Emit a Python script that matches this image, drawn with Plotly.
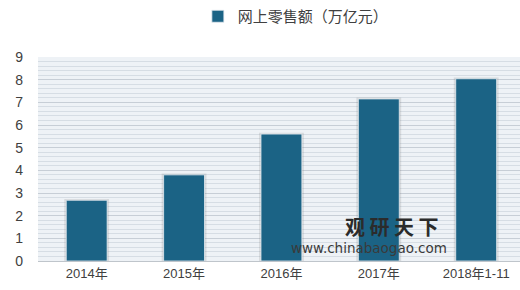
import plotly.graph_objects as go

categories = ["2014年", "2015年", "2016年", "2017年", "2018年1-11"]
values = [2.68, 3.80, 5.60, 7.15, 8.04]
series_name = "网上零售额（万亿元）"
y_ticks = [0, 1, 2, 3, 4, 5, 6, 7, 8, 9]

FONT = "Liberation Sans, Noto Sans CJK SC, sans-serif"

fig = go.Figure()
# soft shadow behind bars
fig.add_trace(go.Bar(
    x=categories, y=[v + 0.06 for v in values], width=0.46,
    marker=dict(color="rgba(110,110,110,0.18)", line=dict(width=0)),
    showlegend=False, hoverinfo="skip",
))
fig.add_trace(go.Bar(
    x=categories, y=values, width=0.42, name=series_name,
    marker=dict(color="#1b6385", line=dict(color="#e4ebf0", width=0.8)),
))

fig.update_layout(
    width=520, height=290,
    margin=dict(l=38, r=0, t=40, b=29),
    paper_bgcolor="white",
    plot_bgcolor="#eef2f6",
    barmode="overlay",
    font=dict(family=FONT, size=13, color="#404040"),
    showlegend=True,
    legend=dict(
        orientation="h", x=0.535, xanchor="center", y=1.2, yanchor="middle",
        bgcolor="white", font=dict(size=15, color="#404040"),
        itemwidth=30,
    ),
    xaxis=dict(
        range=[-0.5, 4.45], showgrid=False, showline=True,
        linecolor="#bfc5cb", linewidth=1, ticks="",
        tickfont=dict(size=13, color="#404040"),
    ),
    yaxis=dict(
        range=[0, 9], tickvals=y_ticks, showgrid=True,
        gridcolor="#c7ced6", gridwidth=1, zeroline=False,
        ticks="", ticklen=0, ticklabelstandoff=14,
        tickfont=dict(size=14, color="#404040"),
        minor=dict(dtick=0.2, showgrid=True, gridcolor="#d6dde4", gridwidth=1),
    ),
    annotations=[
        dict(text="<b>观 研 天 下</b>", xref="paper", yref="paper", x=0.632, y=0.168,
             xanchor="left", yanchor="middle", showarrow=False,
             font=dict(size=20, color="#2b2b2b", family="Noto Sans CJK SC")),
        dict(text="www.chinabaogao.com", xref="paper", yref="paper", x=0.52, y=0.062,
             xanchor="left", yanchor="middle", showarrow=False,
             font=dict(size=13.5, color="#3a3a3a", family="DejaVu Sans")),
    ],
)

fig.write_html("out.html")
